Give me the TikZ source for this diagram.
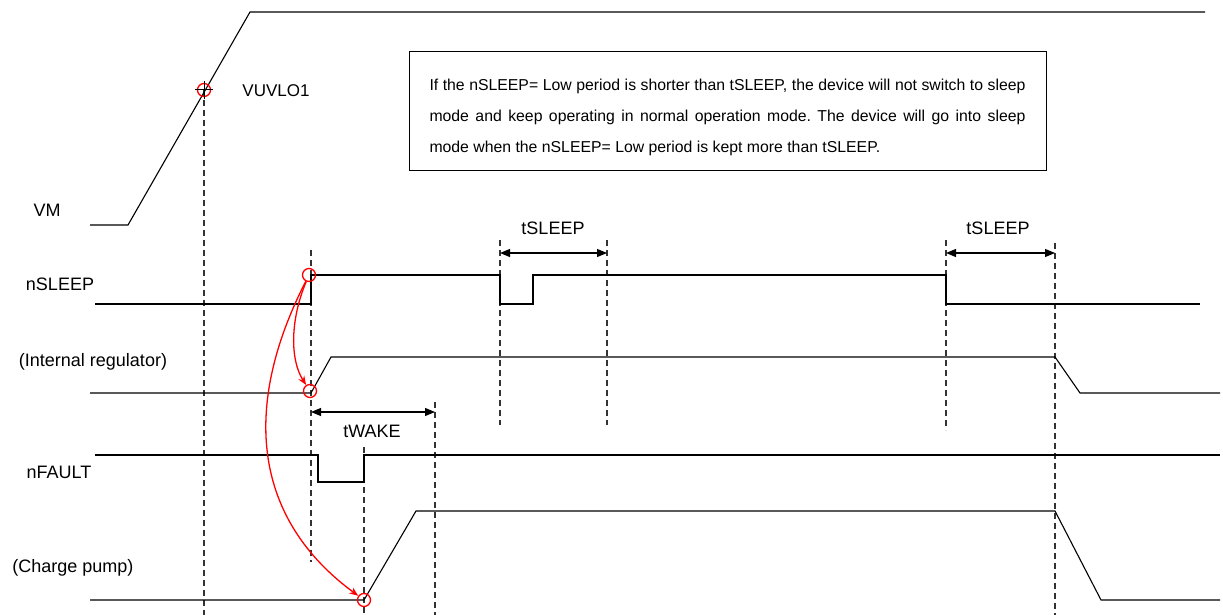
\documentclass[tikz,border=0pt]{standalone}
\usepackage{fontspec}
\setmainfont{Liberation Sans}
\usetikzlibrary{arrows.meta}
\begin{document}
\begin{tikzpicture}[x=1pt,y=-1pt,
  sig/.style={line width=1.1pt, line join=miter},
  guide/.style={dash pattern=on 6pt off 4pt, line width=1.1pt, black!80},
  dimline/.style={line width=1.1pt, {Triangle[length=10pt,width=8pt]}-{Triangle[length=10pt,width=8pt]}},
  lbl/.style={font=\fontsize{18}{20}\selectfont, inner sep=0pt},
  dimlbl/.style={font=\fontsize{18}{20}\selectfont, inner sep=0pt},
  redring/.style={circle, draw=red, line width=1.3pt, minimum size=13pt, inner sep=0pt},
  cause/.style={red, line width=1.3pt, -{Stealth[length=9pt,width=7pt]}}
]
\useasboundingbox (0,0) rectangle (1223,615);

% guide lines
\draw[guide] (204,90) -- (204,615);
\draw[guide] (311,250) -- (311,562);
\draw[guide] (500,240) -- (500,425);
\draw[guide] (607,240) -- (607,425);
\draw[guide] (946,240) -- (946,430);
\draw[guide] (1055,243) -- (1055,615);
\draw[guide] (435,402) -- (435,615);
\draw[guide] (364,447) -- (364,615);

% signals
\draw[sig] (90,225) -- (128,225) -- (250,12) -- (1205,12);
\draw[sig] (95,304) -- (311,304) -- (311,275) -- (500,275) -- (500,304) -- (533,304) -- (533,275) -- (946,275) -- (946,304) -- (1200,304);
\draw[sig] (90,393) -- (311,393) -- (331,357) -- (1055,357) -- (1080,393) -- (1220,393);
\draw[sig] (95,455) -- (318,455) -- (318,482) -- (364,482) -- (364,455) -- (1220,455);
\draw[sig] (90,600) -- (364,600) -- (416,511) -- (1055,511) -- (1101,600) -- (1220,600);

% labels
\node[lbl] (lvm) at (47,210) {VM};
\node[lbl] (lsl) at (60,284) {nSLEEP};
\node[lbl] (lreg) at (93,362) {(Internal regulator)};
\node[lbl] (lfa) at (59,472) {nFAULT};
\node[lbl] (lcp) at (73,568) {(Charge pump)};
\node[lbl, font=\fontsize{17}{20}\selectfont] (luv) at (276,91) {VUVLO1};
\node[dimlbl] (ts1) at (553,228) {tSLEEP};
\node[dimlbl] (ts2) at (998,228) {tSLEEP};
\node[dimlbl] (tw) at (372,431) {tWAKE};

% dimension arrows
\draw[dimline] (311,412) -- (435,412);
\draw[dimline] (500,253) -- (607,253);
\draw[dimline] (946,253) -- (1055,253);

% red markers
\node[redring] (c0) at (204,90) {};
\draw[line width=1pt] (195,90) -- (213,90);
\draw[line width=1pt] (204,81) -- (204,99);
\node[redring] (c1) at (309,275) {};
\node[redring] (c2) at (310,391) {};
\node[redring] (c3) at (364,600) {};

\draw[cause] (c1) .. controls (290,320) and (290,360) .. (c2);
\draw[cause] (c1) .. controls (240,410) and (255,520) .. (c3);

% note box
\node[draw, line width=1pt, minimum width=637pt, minimum height=118pt, inner sep=0pt] (note) at (727.5,111) {};
\node[inner sep=0pt, anchor=center] (notetext) at (727.5,117)
  {\parbox{596pt}{\fontsize{15.8}{31}\selectfont\frenchspacing
   \makebox[596pt][s]{If the nSLEEP= Low period is shorter than tSLEEP, the device will not switch to sleep}\\
   \makebox[596pt][s]{mode and keep operating in normal operation mode. The device will go into sleep}\\
   mode when the nSLEEP= Low period is kept more than tSLEEP.}};
\end{tikzpicture}
\end{document}
